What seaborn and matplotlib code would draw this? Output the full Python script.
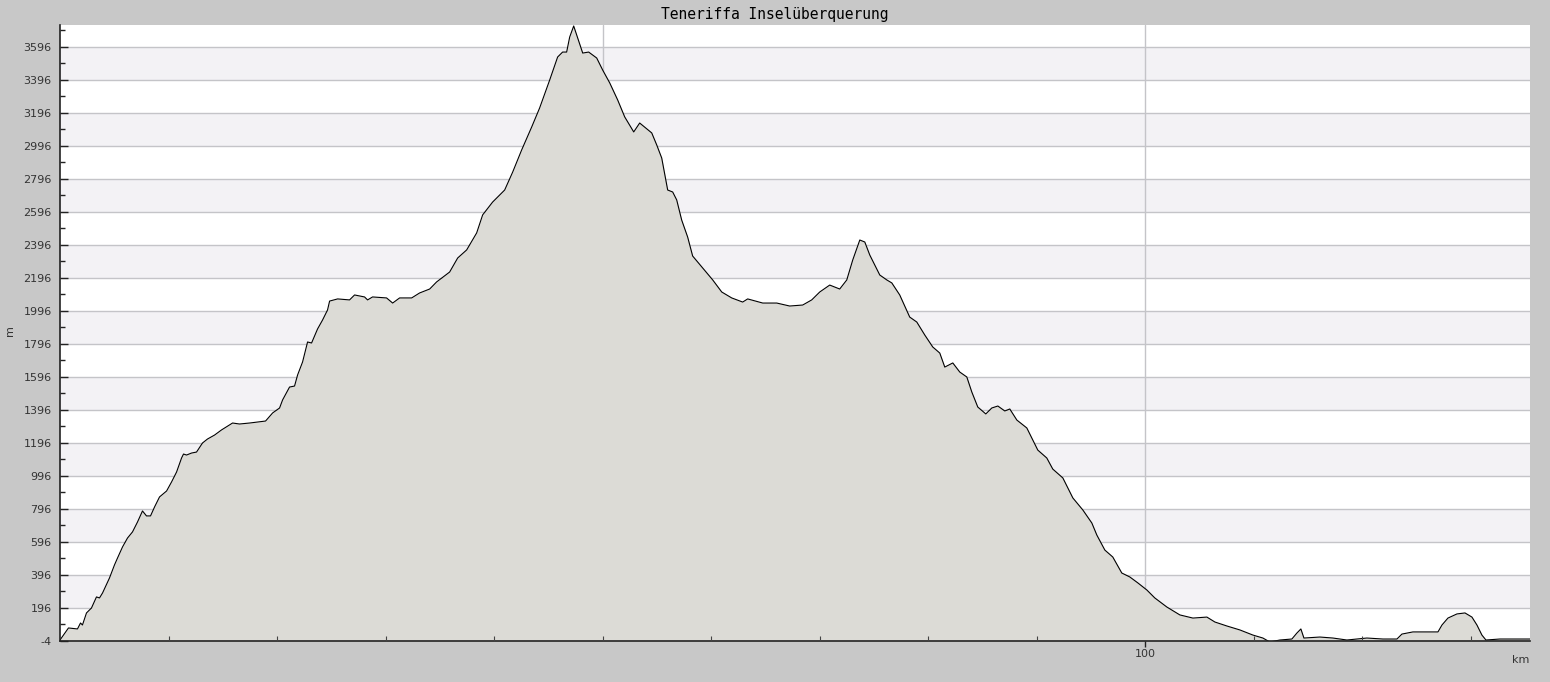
import numpy as np
import pandas as pd
import matplotlib
matplotlib.use("Agg")
import matplotlib.pyplot as plt
import seaborn as sns
from matplotlib.ticker import FixedLocator, NullFormatter

title = "Teneriffa Inselüberquerung"
x_label = "km"
y_label = "m"

dist_km = [0.00, 0.78, 1.61, 1.89, 2.07, 2.44, 2.90, 3.36, 3.64, 3.92, 4.56, 5.02, 5.30, 5.76,
           6.22, 6.68, 7.14, 7.60, 7.97, 8.34, 8.71, 9.17, 9.82, 10.28, 10.74, 11.20, 11.38,
           11.66, 12.12, 12.58, 13.13, 13.59, 14.24, 14.88, 15.90, 16.54, 17.47, 18.94, 19.59,
           20.23, 20.51, 21.15, 21.61, 21.89, 22.35, 22.81, 23.18, 23.73, 24.19, 24.65, 24.84,
           25.58, 26.68, 27.14, 28.06, 28.34, 28.80, 30.09, 30.65, 31.29, 32.40, 33.13, 34.06,
           34.70, 35.90, 36.64, 37.47, 38.39, 38.94, 39.86, 40.97, 41.71, 42.53, 43.46, 44.19,
           45.12, 45.85, 46.31, 46.68, 46.96, 47.33, 47.70, 48.16, 48.71, 49.45, 50.00, 50.65,
           51.38, 52.03, 52.86, 53.41, 54.52, 54.98, 55.44, 55.99, 56.45, 56.82, 57.28, 57.83,
           58.29, 59.22, 60.14, 60.97, 61.89, 62.90, 63.36, 64.75, 66.04, 67.23, 68.43, 69.26,
           70.00, 70.92, 71.84, 72.49, 73.04, 73.69, 74.15, 74.61, 75.53, 76.18, 76.64, 77.37,
           78.29, 78.94, 79.68, 80.41, 81.06, 81.52, 82.26, 82.90, 83.55, 84.01, 84.56, 85.30,
           85.85, 86.41, 87.05, 87.51, 88.16, 89.08, 90.09, 90.92, 91.47, 92.40, 93.32, 94.24,
           95.07, 95.53, 96.27, 97.00, 97.83, 98.57, 99.31, 100.14, 100.87, 101.98, 103.18,
           104.38, 105.67, 106.41, 107.51, 108.71, 109.91, 110.83, 111.47, 112.40, 113.50,
           113.96, 114.33, 114.61, 116.08, 117.28, 118.57, 120.41, 121.89, 123.18, 123.64,
           124.65, 125.94, 126.96, 127.33, 127.88, 128.71, 129.45, 130.09, 130.55, 131.01,
           131.38, 132.67, 134.24, 135.44]

elev_m = [2, 75, 69, 105, 93, 166, 196, 263, 257, 287, 378, 457, 499, 566,
          620, 657, 717, 784, 754, 754, 808, 869, 905, 960, 1020, 1105, 1129,
          1123, 1135, 1141, 1196, 1220, 1244, 1275, 1317, 1311, 1317, 1329, 1378,
          1408, 1457, 1535, 1541, 1608, 1687, 1808, 1802, 1887, 1941, 2002, 2056,
          2069, 2063, 2093, 2081, 2063, 2081, 2075, 2044, 2075, 2075, 2105, 2129,
          2172, 2232, 2317, 2366, 2469, 2578, 2656, 2729, 2838, 2971, 3111, 3226,
          3396, 3535, 3565, 3565, 3656, 3723, 3650, 3559, 3565, 3529, 3456, 3378,
          3275, 3172, 3081, 3135, 3075, 3002, 2923, 2729, 2717, 2669, 2547, 2444,
          2329, 2256, 2184, 2111, 2075, 2050, 2069, 2044, 2044, 2026, 2032, 2063,
          2111, 2153, 2129, 2184, 2305, 2426, 2414, 2335, 2214, 2184, 2166, 2093,
          1959, 1929, 1850, 1778, 1741, 1656, 1681, 1626, 1596, 1505, 1414, 1372,
          1408, 1420, 1390, 1402, 1335, 1287, 1153, 1105, 1038, 984, 863, 790,
          711, 638, 547, 505, 408, 384, 348, 305, 257, 202, 154,
          135, 141, 111, 87, 63, 32, 14, -10, 2, 8,
          44, 69, 14, 20, 14, 2, 14, 8, 8, 38,
          51, 51, 51, 93, 135, 160, 166, 141, 93, 32,
          2, 8, 8, 8]

y_major = [-4, 196, 396, 596, 796, 996, 1196, 1396, 1596, 1796, 1996, 2196, 2396,
           2596, 2796, 2996, 3196, 3396, 3596]
y_minor = [96, 296, 496, 696, 896, 1096, 1296, 1496, 1696, 1896, 2096, 2296, 2496,
           2696, 2896, 3096, 3296, 3496, 3696]
x_major = [100]
x_grid = [50, 100]
x_minor = [10, 20, 30, 40, 50, 60, 70, 80, 90, 110, 120, 130]

df = pd.DataFrame({"km": dist_km, "m": elev_m})

sns.set_theme(style="white")
plt.rcParams['font.family'] = ['DejaVu Sans']

bg = "#c8c8c8"
fig = plt.figure(figsize=(15.5, 6.82), dpi=100, facecolor=bg)
ax = fig.add_axes([60 / 1550, 1 - 641 / 682, 1470 / 1550, 616 / 682])
ax.set_facecolor("white")
ax.set_axisbelow(False)

ymin, ymax = -4, 3729
xmin, xmax = 0, 135.44

# alternating bands
for i in range(len(y_major) - 1):
    if i % 2 == 1:
        ax.axhspan(y_major[i], y_major[i + 1], color="#f3f2f5", zorder=0, lw=0)
for yv in y_major[1:]:
    ax.axhline(yv, color="#c4c4c8", lw=1, zorder=0.5)
for xv in x_grid:
    ax.axvline(xv, color="#c4c4c8", lw=1, zorder=0.5)

ax.fill_between(df["km"], df["m"], ymin, color="#dcdbd6", zorder=1, lw=0)
sns.lineplot(data=df, x="km", y="m", ax=ax, color="black", lw=0.8, zorder=2,
             estimator=None, sort=False)

ax.set_xlim(xmin, xmax)
ax.set_ylim(ymin, ymax)

ax.yaxis.set_major_locator(FixedLocator(y_major))
ax.yaxis.set_minor_locator(FixedLocator(y_minor))
ax.set_yticklabels([str(v) for v in y_major])
ax.xaxis.set_major_locator(FixedLocator(x_major))
ax.xaxis.set_minor_locator(FixedLocator(x_minor))
ax.set_xticklabels([str(v) for v in x_major])
ax.xaxis.set_minor_formatter(NullFormatter())

ax.tick_params(axis="y", which="major", direction="in", length=6, width=1,
               color="#222222", labelsize=8, labelcolor="#333333", pad=6, left=True)
ax.tick_params(axis="y", which="minor", direction="in", length=3.5, width=1,
               color="#222222", left=True)
ax.tick_params(axis="x", which="major", direction="out", length=4, width=1,
               color="#222222", labelsize=8, labelcolor="#333333", pad=2, bottom=True)
ax.tick_params(axis="x", which="minor", direction="in", length=3.5, width=0.8,
               color="#444444", bottom=True)

for s in ["top", "right"]:
    ax.spines[s].set_visible(False)
for s in ["left", "bottom"]:
    ax.spines[s].set_color("#222222")
    ax.spines[s].set_linewidth(1.2)

ax.set_xlabel("")
ax.set_ylabel("")
fig.text(1521 / 1550, 1 - 660 / 682, x_label, ha="center", va="center",
         fontsize=8, color="#333333")
fig.text(10 / 1550, 1 - 331 / 682, y_label, ha="center", va="center",
         fontsize=8, color="#333333", rotation=90)
fig.text(0.5, 1 - 14 / 682, title, ha="center", va="center",
         fontsize=10.5, color="black", family="DejaVu Sans Mono")

fig.savefig("out.png", dpi=100, facecolor=bg)
